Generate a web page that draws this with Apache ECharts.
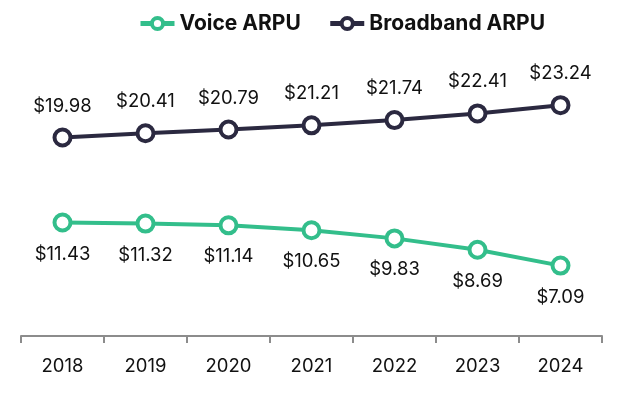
<!DOCTYPE html>
<html><head><meta charset="utf-8">
<script src="https://cdn.jsdelivr.net/npm/echarts@6/dist/echarts.min.js"></script>
<style>html,body{margin:0;padding:0;background:#fff}#c{width:624px;height:394px}</style>
</head><body><div id="c"></div>
<script>
const years = ['2018','2019','2020','2021','2022','2023','2024'];
const voiceARPU = [11.43, 11.32, 11.14, 10.65, 9.83, 8.69, 7.09];
const broadbandARPU = [19.98, 20.41, 20.79, 21.21, 21.74, 22.41, 23.24];
const green = '#33BE8B', navy = '#2B2940';
const chart = echarts.init(document.getElementById('c'));
const lbl = (pos) => ({show:true, position:pos, distance:12, color:'#111', fontSize:18.5, fontFamily:'Inter', formatter:p=>'$'+p.value.toFixed(2)});
chart.setOption({
  animation:false,
  textStyle:{fontFamily:'Inter'},
  legend:{top:8, left:133, itemWidth:34, itemHeight:14, itemGap:27,
    lineStyle:{width:5}, itemStyle:{borderWidth:4},
    textStyle:{fontSize:21, fontWeight:'bold', color:'#111', fontFamily:'Inter'}},
  grid:{left:21, right:22, top:38, bottom:53},
  xAxis:{type:'category', data:years, boundaryGap:true,
    axisLine:{lineStyle:{color:'#8c8c8c', width:2}},
    axisTick:{show:true, length:7, lineStyle:{color:'#8c8c8c', width:2}},
    axisLabel:{color:'#111', fontSize:18.5, margin:16, fontFamily:'Inter'}},
  yAxis:{type:'value', min:-0.5, max:30, show:false, splitLine:{show:false}},
  series:[
    {name:'Voice ARPU', type:'line', data:voiceARPU, symbol:'circle', symbolSize:16,
     color:green, lineStyle:{width:4, color:green},
     itemStyle:{color:'#fff', borderColor:green, borderWidth:4},
     label:lbl('bottom')},
    {name:'Broadband ARPU', type:'line', data:broadbandARPU, symbol:'circle', symbolSize:16,
     color:navy, lineStyle:{width:4, color:navy},
     itemStyle:{color:'#fff', borderColor:navy, borderWidth:4},
     label:lbl('top')}
  ]
});
</script></body></html>
